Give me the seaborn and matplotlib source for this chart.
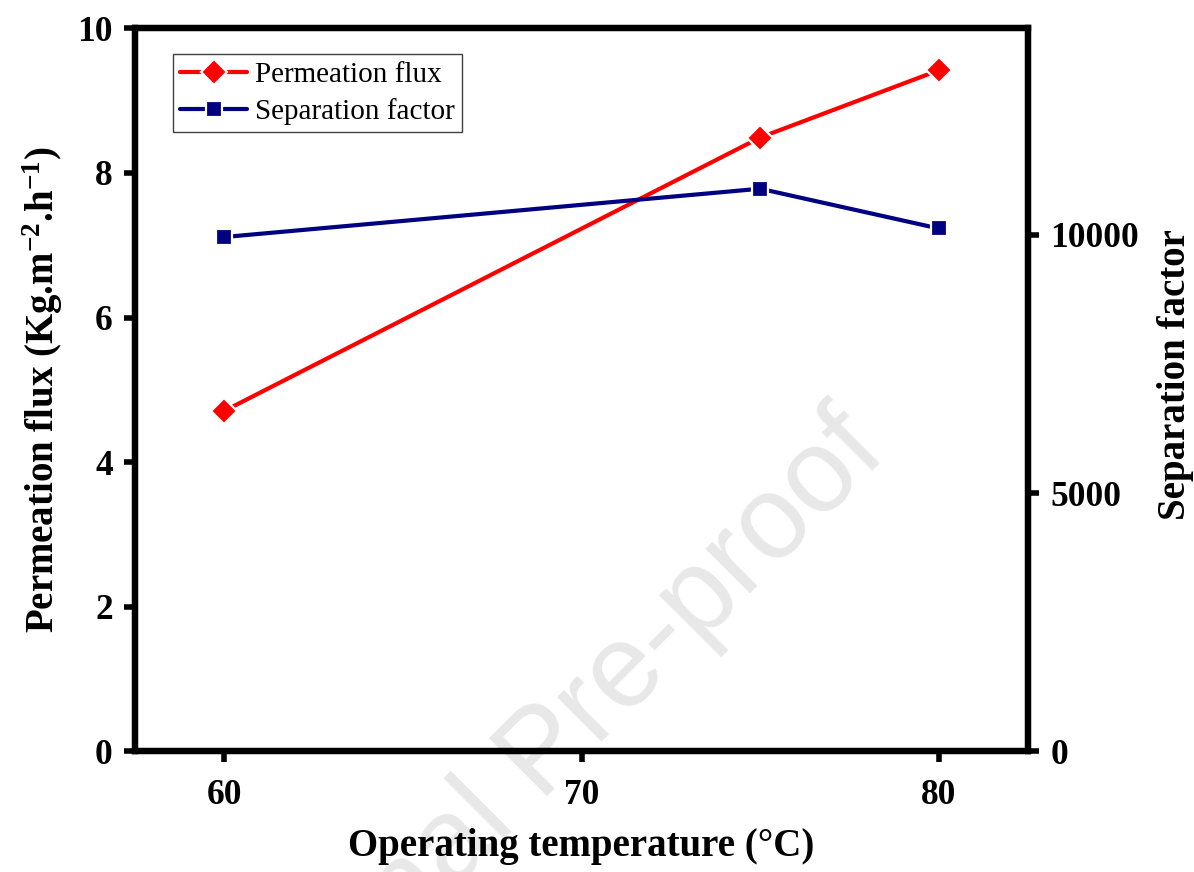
import matplotlib
matplotlib.use("Agg")
import matplotlib.pyplot as plt
import seaborn as sns

# Operating temperature (°C) and the two measured responses
temperature = [60, 75, 80]
permeation_flux = [4.71, 8.49, 9.42]          # Kg.m-2.h-1
separation_factor = [9960, 10895, 10125]

x_ticks = [60, 70, 80]
flux_ticks = [0, 2, 4, 6, 8, 10]
sep_ticks = [0, 5000, 10000]

sns.set_style("ticks")
plt.rcParams["font.family"] = ["Liberation Serif", "DejaVu Serif"]
plt.rcParams["mathtext.fontset"] = "custom"
plt.rcParams["mathtext.rm"] = "Liberation Serif"
plt.rcParams["mathtext.bf"] = "Liberation Serif:bold"
plt.rcParams["mathtext.default"] = "bf"
for key in ("text.color", "axes.labelcolor", "xtick.color", "ytick.color"):
    plt.rcParams[key] = "black"

fig = plt.figure(figsize=(11.94, 8.72), dpi=100)
ax = fig.add_axes([0.1131, 0.1382, 0.7479, 0.8293])
ax.set_facecolor("none")
ax2 = ax.twinx()
ax2.patch.set_visible(False)

line_kw = dict(linewidth=3.0, markeredgecolor="white", markeredgewidth=1.6)
sns.lineplot(x=temperature, y=permeation_flux, ax=ax, color="#ff0000",
             marker="D", markersize=13, label="Permeation flux", legend=False,
             **line_kw)
sns.lineplot(x=temperature, y=separation_factor, ax=ax2, color="#000080",
             marker="s", markersize=11, label="Separation factor", legend=False,
             **line_kw)

ax.set_xlim(57.5, 82.5)
ax.set_ylim(0, 10)
ax2.set_ylim(0, 14000)
ax.set_xticks(x_ticks)
ax.set_yticks(flux_ticks)
ax2.set_yticks(sep_ticks)

for a in (ax, ax2):
    for s in a.spines.values():
        s.set_linewidth(4.5)
        s.set_color("black")
    a.tick_params(axis="both", which="major", direction="out", length=8,
                  width=4.0, pad=8, labelsize=25.5, color="black")
ax.tick_params(axis="x", pad=12)
ax.tick_params(right=False, top=False)
ax2.tick_params(left=False, top=False, bottom=False)
for lab in ax.get_xticklabels() + ax.get_yticklabels() + ax2.get_yticklabels():
    lab.set_fontweight("bold")

ax.set_xlabel("Operating temperature (°C)", fontsize=28, fontweight="bold",
              labelpad=11)
ax.set_ylabel(r"Permeation flux (Kg.m$^{-2}$.h$^{-1}$)", fontsize=28,
              fontweight="bold", labelpad=9)
ax2.set_ylabel("Separation factor", fontsize=28, fontweight="bold")
ax2.yaxis.set_label_coords(1.1444, 0.5206)

handles = ax.get_lines() + ax2.get_lines()
leg = ax2.legend(handles=handles, labels=["Permeation flux", "Separation factor"],
                 loc="upper left", bbox_to_anchor=(0.0426, 0.9645),
                 borderaxespad=0, fontsize=21, handlelength=2.3,
                 handletextpad=0.25, borderpad=0.25, labelspacing=0.35,
                 fancybox=False, framealpha=1)
leg.get_frame().set_edgecolor("#404040")
leg.get_frame().set_linewidth(1.0)

# faint diagonal watermark behind the plot
fig.text(0.4565, 0.134, "Journal Pre-proof", fontsize=85, color="#e8e8e8",
         family="Liberation Sans", rotation=45, rotation_mode="anchor",
         ha="center", va="center", zorder=-1)

fig.savefig("out.png", dpi=100)
